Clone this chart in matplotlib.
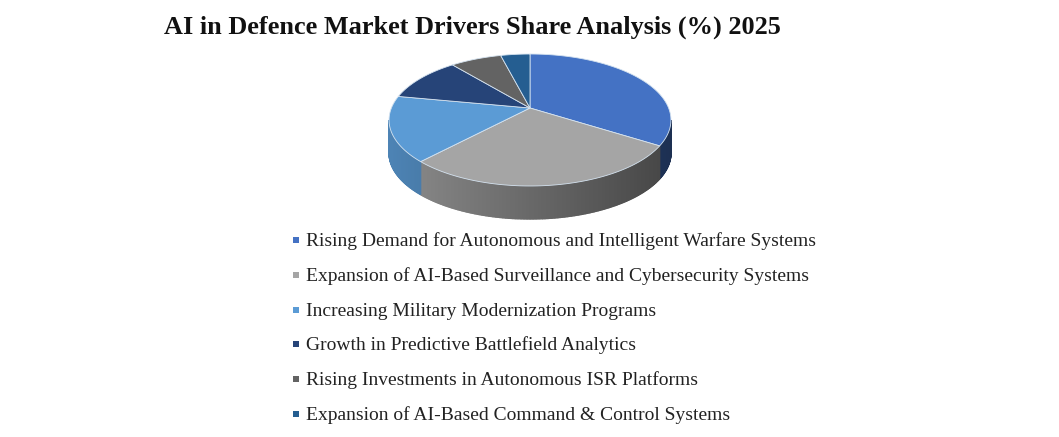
import numpy as np
import matplotlib
matplotlib.use("Agg")
import matplotlib.pyplot as plt
from matplotlib.colors import to_rgb

title = "AI in Defence Market Drivers Share Analysis (%) 2025"
labels = [
    "Rising Demand for Autonomous and Intelligent Warfare Systems",
    "Expansion of AI-Based Surveillance and Cybersecurity Systems",
    "Increasing Military Modernization Programs",
    "Growth in Predictive Battlefield Analytics",
    "Rising Investments in Autonomous ISR Platforms",
    "Expansion of AI-Based Command & Control Systems",
]
shares = [34, 28, 16, 11, 7, 4]
colors = ["#4472c4", "#a5a5a5", "#5b9bd5", "#264478", "#636363", "#255e91"]

# pie geometry in pixels, apex sits above the ellipse centre because of the perspective
cx, cy = 530, 108
a, b, k = 63.8, 138.6, 0.1818
depth = 33


def project(t, drop=0):
    # t is in degrees, counterclockwise from the right
    X = np.cos(np.radians(t))
    Y = np.sin(np.radians(t))
    w = 1 + k * Y
    return cx + b * X / w, cy - a * Y / w + drop


def shade(color, x):
    f = 0.85 - 0.43 * (x - (cx - 141)) / 282
    return tuple(c * f for c in to_rgb(color))


fig = plt.figure(figsize=(10.59, 4.37), dpi=100)
ax = fig.add_axes([0, 0, 1, 1])
ax.set_xlim(0, 1059)
ax.set_ylim(437, 0)
ax.axis("off")

# slice limits, clockwise from 12 o'clock
edges = 90 - np.cumsum([0] + shares) * 3.6
wall_lo, wall_hi = -169.5, -10.5

# side wall
for i, color in enumerate(colors):
    hi = edges[i]
    lo = edges[i + 1]
    s_lo, s_hi = max(lo, wall_lo), min(hi, wall_hi)
    if s_hi <= s_lo:
        continue
    steps = np.linspace(s_lo, s_hi, int((s_hi - s_lo) * 2) + 2)
    for t0, t1 in zip(steps[:-1], steps[1:]):
        tt = np.array([t0, t1])
        x, y = project(tt)
        x2, y2 = project(tt, depth)
        col = shade(color, x.mean())
        ax.fill([x[0], x[1], x2[1], x2[0]], [y[0], y[1], y2[1], y2[0]],
                facecolor=col, edgecolor=col, lw=1.0, zorder=2)

# top face
for i, color in enumerate(colors):
    tt = np.linspace(edges[i], edges[i + 1], 120)
    x, y = project(tt)
    ax.fill(np.r_[cx, x], np.r_[cy, y], facecolor=color,
            edgecolor="#d5e3f0", lw=0.6, joinstyle="round", zorder=3)

ax.text(472.5, 27.5, title, family="Liberation Serif", weight="bold", fontsize=18.9,
        color="#111111", ha="center", va="center")

legend_y = [240, 275, 310, 344, 379, 414]
for y, name, color in zip(legend_y, labels, colors):
    ax.scatter([296], [y], marker="s", s=24, color=color, lw=0, zorder=3)
    ax.text(306, y + 1.5, name, family="Liberation Serif", fontsize=14,
            color="#222222", ha="left", va="center")

fig.savefig("out.png", dpi=100)
